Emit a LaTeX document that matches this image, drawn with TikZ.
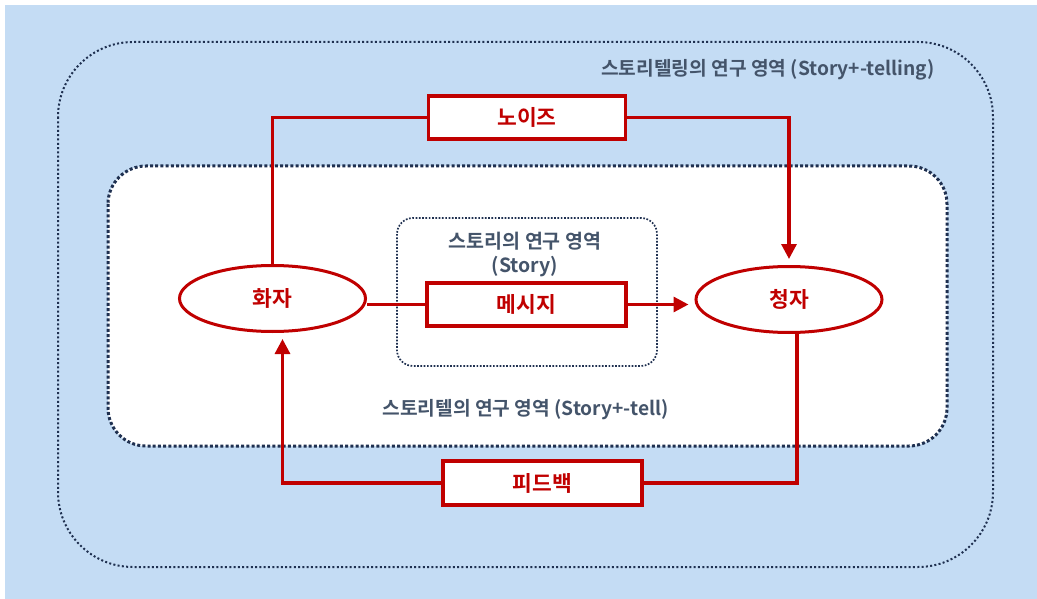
\documentclass[tikz,border=0pt]{standalone}
\usepackage{fontspec}
\setmainfont{Noto Sans CJK KR}[BoldFont={Noto Sans CJK KR Bold}]
\usetikzlibrary{arrows.meta,shapes.geometric,calc}
\definecolor{bgblue}{HTML}{C4DCF4}
\definecolor{rred}{HTML}{C00000}
\definecolor{navy}{HTML}{1F3050}
\definecolor{lgray}{HTML}{44546A}
\tikzset{
  rbox/.style={draw=rred, line width=3.5pt, fill=white, inner sep=0pt,
    minimum width=197pt, minimum height=43pt, text=rred,
    font=\bfseries\fontsize{21.5}{24}\selectfont},
  rell/.style={ellipse, draw=rred, line width=3pt, fill=white, inner sep=0pt,
    minimum width=186pt, minimum height=66pt, text=rred,
    font=\bfseries\fontsize{21.5}{24}\selectfont},
  rline/.style={draw=rred, line width=3.2pt},
  rarrow/.style={rline, -{Triangle[length=15pt,width=15pt]}, shorten >=6pt},
  glabel/.style={text=lgray, inner sep=0pt, align=center,
    font=\bfseries\fontsize{19.2}{24}\selectfont},
}
\begin{document}
\begin{tikzpicture}[x=1pt,y=-1pt]
\useasboundingbox (0,0) rectangle (1037,599);
\fill[bgblue] (5,5) rectangle (1037,599);
% outer region
\draw[navy, line width=2pt, dash pattern=on 2pt off 2.3pt, rounded corners=75pt]
  (58,42) rectangle (993,567);
% middle region
\draw[navy, fill=white, line width=3pt, dash pattern=on 3pt off 2.2pt, rounded corners=38pt]
  (108,166) rectangle (947,446);
% inner region
\draw[navy, line width=1.7pt, dash pattern=on 1.7pt off 1.6pt, rounded corners=16pt]
  (397,218) rectangle (657,366);

\node[glabel, anchor=east] (tlabel) at (935,70) {스토리텔링의 연구 영역 (Story+-telling)};
\node[glabel, font=\bfseries\fontsize{19.5}{24}\selectfont] (slabel) at (525,255) {스토리의 연구 영역\\(Story)};
\node[glabel] (tllabel) at (525.5,410) {스토리텔의 연구 영역 (Story+-tell)};

\node[rbox] (noise) at (527,117.5) {노이즈};
\node[rbox, minimum width=199pt] (msg) at (526.5,304.5) {메시지};
\node[rbox, minimum width=199pt, minimum height=44pt] (fb) at (542.5,483) {피드백};
\node[rell] (speaker) at (272.5,298.5) {화자};
\node[rell] (listener) at (789,299.5) {청자};

\draw[rline] (speaker.north) |- (noise.west);
\draw[rarrow] (noise.east) -| (listener.north);
\draw[rline] (msg.west) -- (speaker.east |- msg.west);
\draw[rarrow] (msg.east) -- (listener.west |- msg.east);
\draw[rline] ([xshift=8pt]listener.south) |- (fb.east);
\draw[rarrow] (fb.west) -| ([xshift=10pt]speaker.south);
\end{tikzpicture}
\end{document}
